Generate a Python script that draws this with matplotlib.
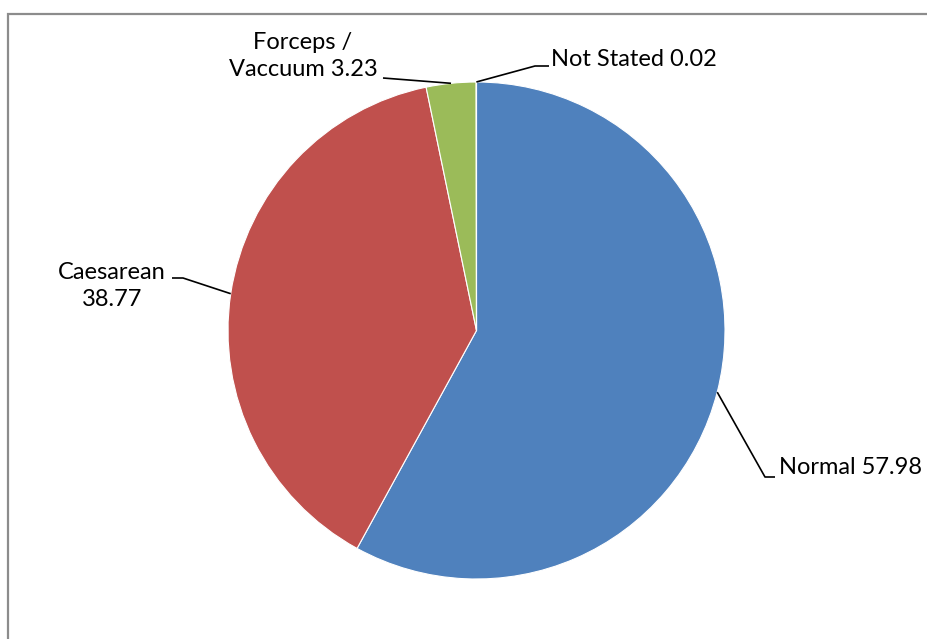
import matplotlib
matplotlib.use('Agg')
import numpy as np
import matplotlib.pyplot as plt
from matplotlib.patches import Rectangle

labels = ['Normal', 'Caesarean', 'Forceps /\nVaccuum', 'Not Stated']
values = [57.98, 38.77, 3.23, 0.02]
colors = ['#4F81BD', '#C0504D', '#9BBB59', '#8064A2']

W, H = 928, 639
fig = plt.figure(figsize=(W / 100, H / 100), dpi=100)
ax = fig.add_axes([0, 0, 1, 1])

# chart area border (cropped on right / bottom)
ax.add_patch(Rectangle((8.5, -20), W + 40, H - 13.5 + 20, fill=False,
                       edgecolor='#8C8C8C', lw=1.6))

cx, cy, r = 476.5, H - 330.5, 248.5
wedges, _ = ax.pie(values, colors=colors, startangle=90, counterclock=False,
                   center=(cx, cy), radius=r, frame=True,
                   wedgeprops=dict(edgecolor='white', linewidth=0.8))
ax.set_xlim(0, W)
ax.set_ylim(0, H)
ax.axis('off')

font = dict(family='Lato', fontsize=17, color='black')

# leader elbow, leader end, text position, alignment (pixel layout, y from top)
layout = [
    ((765, 477), (775, 477), (779, 468), 'left'),
    ((183, 278), (172, 278), (112, 286), 'center'),
    ((383, 78), (383, 78), (303, 56), 'center'),
    ((535, 66), (549, 66), (551, 60), 'left'),
]
texts = ['Normal 57.98', 'Caesarean\n38.77', 'Forceps /\nVaccuum 3.23', 'Not Stated 0.02']

for w, txt, (elb, end, tpos, ha) in zip(wedges, texts, layout):
    mid = np.deg2rad((w.theta1 + w.theta2) / 2)
    px, py = cx + r * np.cos(mid), cy + r * np.sin(mid)
    ax.plot([px, elb[0], end[0]], [py, H - elb[1], H - end[1]],
            color='black', lw=1.2, solid_capstyle='butt')
    ax.text(tpos[0], H - tpos[1], txt, ha=ha, va='center',
            multialignment='center', linespacing=1.3, **font)

fig.savefig('out.png', dpi=100)
